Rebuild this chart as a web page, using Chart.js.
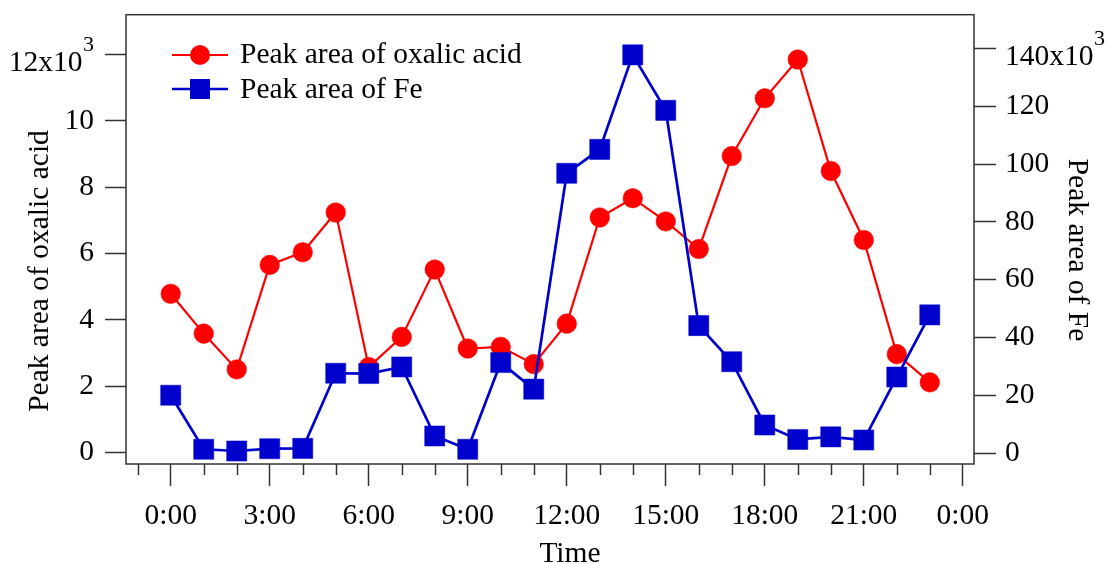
<!DOCTYPE html>
<html>
<head>
<meta charset="utf-8">
<script src="https://cdn.jsdelivr.net/npm/chart.js@4"></script>
<style>
html,body{margin:0;padding:0;background:#fff;}
#wrap{width:1107px;height:564px;}
</style>
</head>
<body>
<div id="wrap"><canvas id="c" width="1107" height="564"></canvas></div>
<script>
// ---- data ----
const hours = [0,1,2,3,4,5,6,7,8,9,10,11,12,13,14,15,16,17,18,19,20,21,22,23];
// peak area of oxalic acid (x10^3)
const oxalic = [4.79,3.59,2.51,5.66,6.04,7.24,2.58,3.49,5.52,3.14,3.19,2.67,3.89,7.09,7.67,6.97,6.14,8.94,10.68,11.85,8.49,6.41,2.97,2.12];
// peak area of Fe (x10^3)
const fe = [20.0,1.3,0.7,1.5,1.6,27.6,27.5,29.8,5.9,1.3,31.3,22.1,96.8,105.1,137.8,118.6,44.1,31.6,9.7,4.7,5.6,4.5,26.3,47.8];
const xTickHours = [0,3,6,9,12,15,18,21,24];
const xTickLabels = ['0:00','3:00','6:00','9:00','12:00','15:00','18:00','21:00','0:00'];
const leftTicks = [0,2,4,6,8,10,12];
const rightTicks = [0,20,40,60,80,100,120,140];
const leftTopLabel = {value: 12, base: '12x10', sup: '3'};
const rightTopLabel = {value: 140, base: '140x10', sup: '3'};
const seriesNames = ['Peak area of oxalic acid','Peak area of Fe'];
const axisTitles = {x:'Time', left:'Peak area of oxalic acid', right:'Peak area of Fe'};

const FONT = 'Liberation Serif';
const FS = 29.5;
const RED = '#ff0000';
const BLUE = '#0000cc';
const AX = '#333333';

Chart.defaults.font.family = FONT;
Chart.defaults.font.size = FS;
Chart.defaults.color = '#000';

const decoPlugin = {
  id: 'deco',
  afterDraw(chart) {
    const ctx = chart.ctx;
    const a = chart.chartArea;
    const xs = chart.scales.x;
    const yl = chart.scales.y;
    const yr = chart.scales.y2;
    ctx.save();
    // frame
    ctx.strokeStyle = AX;
    ctx.lineWidth = 1.5;
    ctx.strokeRect(a.left, a.top, a.right - a.left, a.bottom - a.top);
    // minor x ticks
    for (let h = -1; h <= 24; h++) {
      if (h % 3 === 0) continue;
      const px = Math.round(xs.getPixelForValue(h)) + 0.5;
      ctx.beginPath();
      ctx.moveTo(px, a.bottom);
      ctx.lineTo(px, a.bottom + 11);
      ctx.stroke();
    }
    ctx.fillStyle = '#000';
    const mainFont = FS + 'px "' + FONT + '"';
    const supFont = '22px "' + FONT + '"';
    ctx.textBaseline = 'alphabetic';
    // exponent tick labels (left)
    {
      const py = yl.getPixelForValue(leftTopLabel.value);
      const xr = yl.right - 21 - 11;
      ctx.font = supFont;
      const w3 = ctx.measureText(leftTopLabel.sup).width;
      ctx.textAlign = 'right';
      ctx.fillText(leftTopLabel.sup, xr, py - 3.8);
      ctx.font = mainFont;
      ctx.fillText(leftTopLabel.base, xr - w3 - 0.5, py + 16.7);
    }
    // exponent tick labels (right)
    {
      const py = yr.getPixelForValue(rightTopLabel.value);
      const xl = yr.left + 22 + 9;
      ctx.font = mainFont;
      ctx.textAlign = 'left';
      const wb = ctx.measureText(rightTopLabel.base).width;
      ctx.fillText(rightTopLabel.base, xl, py + 16.7);
      ctx.font = supFont;
      ctx.fillText(rightTopLabel.sup, xl + wb + 0.5, py - 3.5);
    }
    // axis titles
    ctx.font = mainFont;
    ctx.textAlign = 'center';
    ctx.fillText(axisTitles.x, 570, 561.5);
    ctx.textBaseline = 'middle';
    ctx.save();
    ctx.translate(40, 271);
    ctx.rotate(-Math.PI / 2);
    ctx.fillText(axisTitles.left, 0, 0);
    ctx.restore();
    ctx.save();
    ctx.translate(1077, 250);
    ctx.rotate(Math.PI / 2);
    ctx.fillText(axisTitles.right, 0, 0);
    ctx.restore();
    // legend
    const lx0 = 172, lx1 = 228, mx = 200, tx = 240;
    const rows = [
      {y: 55, base: 63.3, color: RED, style: 'circle', w: 2.2},
      {y: 89, base: 98.3, color: BLUE, style: 'rect', w: 2.7}
    ];
    rows.forEach((r, i) => {
      ctx.strokeStyle = r.color;
      ctx.lineWidth = r.w;
      ctx.beginPath();
      ctx.moveTo(lx0, r.y);
      ctx.lineTo(lx1, r.y);
      ctx.stroke();
      ctx.fillStyle = r.color;
      if (r.style === 'circle') {
        ctx.beginPath();
        ctx.arc(mx, r.y, 10, 0, Math.PI * 2);
        ctx.fill();
      } else {
        ctx.fillRect(mx - 10, r.y - 10, 20, 20);
      }
      ctx.fillStyle = '#000';
      ctx.textAlign = 'left';
      ctx.textBaseline = 'alphabetic';
      ctx.font = mainFont;
      ctx.fillText(seriesNames[i], tx, r.base);
    });
    ctx.restore();
  }
};

function fixWidth(w) {
  return function(scale) {
    scale.width = w;
    scale.paddingTop = 0; scale.paddingBottom = 0;
  };
}

new Chart(document.getElementById('c'), {
  type: 'line',
  data: {
    datasets: [
      {
        label: seriesNames[1],
        data: hours.map((h, i) => ({x: h, y: fe[i]})),
        yAxisID: 'y2',
        borderColor: BLUE,
        backgroundColor: BLUE,
        borderWidth: 2.7,
        pointStyle: 'rect',
        pointRadius: 14.2,
        pointBorderWidth: 0.5,
        pointBorderColor: BLUE,
        pointBackgroundColor: BLUE,
        tension: 0,
        order: 0
      },
      {
        label: seriesNames[0],
        data: hours.map((h, i) => ({x: h, y: oxalic[i]})),
        yAxisID: 'y',
        borderColor: RED,
        backgroundColor: RED,
        borderWidth: 2.2,
        pointStyle: 'circle',
        pointRadius: 9.8,
        pointBorderWidth: 0.5,
        pointBorderColor: RED,
        pointBackgroundColor: RED,
        tension: 0,
        order: 1
      }
    ]
  },
  options: {
    responsive: false,
    animation: false,
    events: [],
    layout: {padding: {top: 13, left: 0, right: 0, bottom: 0}},
    plugins: {legend: {display: false}, tooltip: {enabled: false}},
    scales: {
      x: {
        type: 'linear',
        min: -1.355,
        max: 24.34,
        afterBuildTicks(scale) {
          scale.ticks = xTickHours.map(v => ({value: v}));
        },
        afterFit(scale) {
          scale.height = 100;
          scale.paddingLeft = 0; scale.paddingRight = 0;
        },
        border: {display: false},
        grid: {
          drawOnChartArea: false,
          drawTicks: true,
          tickLength: 22,
          tickWidth: 1.5,
          tickColor: AX
        },
        ticks: {
          autoSkip: false,
          maxRotation: 0,
          minRotation: 0,
          padding: 13,
          color: '#000',
          callback(v) {
            const i = xTickHours.indexOf(v);
            return i >= 0 ? xTickLabels[i] : '';
          }
        }
      },
      y: {
        position: 'left',
        min: -0.34,
        max: 13.2,
        afterBuildTicks(scale) {
          scale.ticks = leftTicks.map(v => ({value: v}));
        },
        afterFit: fixWidth(126),
        border: {display: false},
        grid: {
          drawOnChartArea: false,
          tickLength: 21,
          tickWidth: 1.5,
          tickColor: AX
        },
        ticks: {
          padding: 11,
          color: '#000',
          callback(v) { return v === leftTopLabel.value ? '' : String(v); }
        }
      },
      y2: {
        position: 'right',
        min: -3.8,
        max: 151.7,
        afterBuildTicks(scale) {
          scale.ticks = rightTicks.map(v => ({value: v}));
        },
        afterFit: fixWidth(133),
        border: {display: false},
        grid: {
          drawOnChartArea: false,
          tickLength: 22,
          tickWidth: 1.5,
          tickColor: AX
        },
        ticks: {
          padding: 9,
          color: '#000',
          callback(v) { return v === rightTopLabel.value ? '' : String(v); }
        }
      }
    }
  },
  plugins: [decoPlugin]
});
</script>
</body>
</html>
